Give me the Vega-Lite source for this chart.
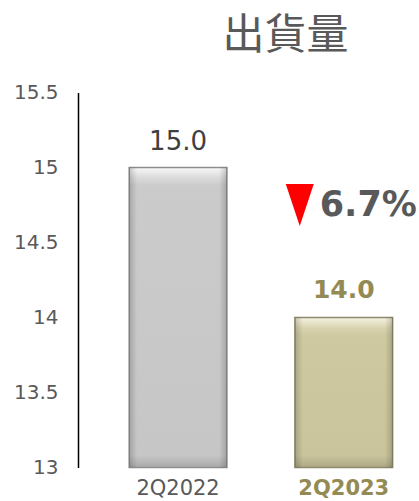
{
  "$schema": "https://vega.github.io/schema/vega-lite/v6.json",
  "width": 341,
  "height": 375,
  "autosize": {"type": "none"},
  "padding": {"left": 78, "top": 92.5, "right": 0, "bottom": 33.5},
  "title": {"text": "出貨量", "font": "Noto Sans CJK TC", "fontSize": 42, "fontWeight": "normal", "color": "#595959", "anchor": "middle", "dx": 37, "offset": 25},
  "config": {"view": {"stroke": null}, "font": "DejaVu Sans"},
  "datasets": {
    "bars": [
      {"quarter": "2Q2022", "shipments": 15.0},
      {"quarter": "2Q2023", "shipments": 14.0}
    ],
    "change": [
      {"quarter": "2Q2023", "pos": 14.75, "label": "6.7%"}
    ]
  },
  "encoding": {
    "x": {
      "field": "quarter", "type": "nominal", "sort": null,
      "scale": {"paddingInner": 0.41, "paddingOuter": 0.234, "align": 0.66},
      "axis": {
        "title": null, "domain": false, "ticks": false, "labelAngle": 0,
        "labelFontSize": 21, "labelPadding": 10,
        "labelColor": {"condition": {"test": "datum.value == '2Q2023'", "value": "#948A54"}, "value": "#595959"},
        "labelFontWeight": {"condition": {"test": "datum.value == '2Q2023'", "value": "bold"}, "value": "normal"}
      }
    }
  },
  "layer": [
    {
      "data": {"name": "bars"},
      "mark": {"type": "bar", "strokeWidth": 1.5},
      "encoding": {
        "y": {
          "field": "shipments", "type": "quantitative",
          "scale": {"domain": [13, 15.5], "zero": false, "nice": false},
          "axis": {
            "title": null, "grid": false, "ticks": false, "values": [13, 13.5, 14, 14.5, 15, 15.5], "format": "~g",
            "domainColor": "#000000", "domainWidth": 1.5, "labelFontSize": 20, "labelColor": "#595959", "labelPadding": 20
          }
        },
        "y2": {"datum": 13},
        "fill": {
          "condition": {
            "test": "datum.quarter == '2Q2022'",
            "value": {"gradient": "linear", "x1": 0, "y1": 0, "x2": 0, "y2": 1, "stops": [
              {"offset": 0, "color": "#F8F8F8"},
              {"offset": 0.035, "color": "#DADADA"},
              {"offset": 0.06, "color": "#CBCBCB"},
              {"offset": 0.96, "color": "#C6C6C6"},
              {"offset": 1, "color": "#A9A9A9"}
            ]}
          },
          "value": {"gradient": "linear", "x1": 0, "y1": 0, "x2": 0, "y2": 1, "stops": [
            {"offset": 0, "color": "#F6F3E2"},
            {"offset": 0.07, "color": "#D8D3AF"},
            {"offset": 0.12, "color": "#CFC9A2"},
            {"offset": 0.92, "color": "#CAC49C"},
            {"offset": 1, "color": "#ADA884"}
          ]}
        },
        "stroke": {"condition": {"test": "datum.quarter == '2Q2022'", "value": "#8E8E8E"}, "value": "#8F8A6C"}
      }
    },
    {
      "data": {"name": "bars"},
      "mark": {"type": "bar", "strokeWidth": 0, "fill": {"gradient": "linear", "x1": 0, "y1": 0, "x2": 1, "y2": 0, "stops": [
        {"offset": 0, "color": "rgba(0,0,0,0.18)"},
        {"offset": 0.08, "color": "rgba(0,0,0,0)"},
        {"offset": 0.92, "color": "rgba(0,0,0,0)"},
        {"offset": 1, "color": "rgba(0,0,0,0.18)"}
      ]}},
      "encoding": {
        "y": {"field": "shipments", "type": "quantitative"},
        "y2": {"datum": 13}
      }
    },
    {
      "data": {"name": "bars"},
      "transform": [{"filter": "datum.quarter == '2Q2022'"}],
      "mark": {"type": "text", "baseline": "alphabetic", "dy": -18, "fontSize": 26, "color": "#404040"},
      "encoding": {
        "y": {"field": "shipments", "type": "quantitative"},
        "text": {"field": "shipments", "type": "quantitative", "format": ".1f"}
      }
    },
    {
      "data": {"name": "bars"},
      "transform": [{"filter": "datum.quarter == '2Q2023'"}],
      "mark": {"type": "text", "baseline": "alphabetic", "dy": -20, "fontSize": 25, "fontWeight": "bold", "color": "#948A54"},
      "encoding": {
        "y": {"field": "shipments", "type": "quantitative"},
        "text": {"field": "shipments", "type": "quantitative", "format": ".1f"}
      }
    },
    {
      "data": {"name": "change"},
      "mark": {"type": "point", "shape": "M -0.667 -1 L 0.667 -1 L 0 1 Z", "filled": true, "size": 1764, "xOffset": -44, "color": "#FF0000", "opacity": 1, "strokeWidth": 0},
      "encoding": {
        "y": {"field": "pos", "type": "quantitative"}
      }
    },
    {
      "data": {"name": "change"},
      "mark": {"type": "text", "align": "left", "baseline": "middle", "dx": -24, "fontSize": 35, "fontWeight": "bold", "color": "#595959"},
      "encoding": {
        "y": {"field": "pos", "type": "quantitative"},
        "text": {"field": "label"}
      }
    }
  ]
}
